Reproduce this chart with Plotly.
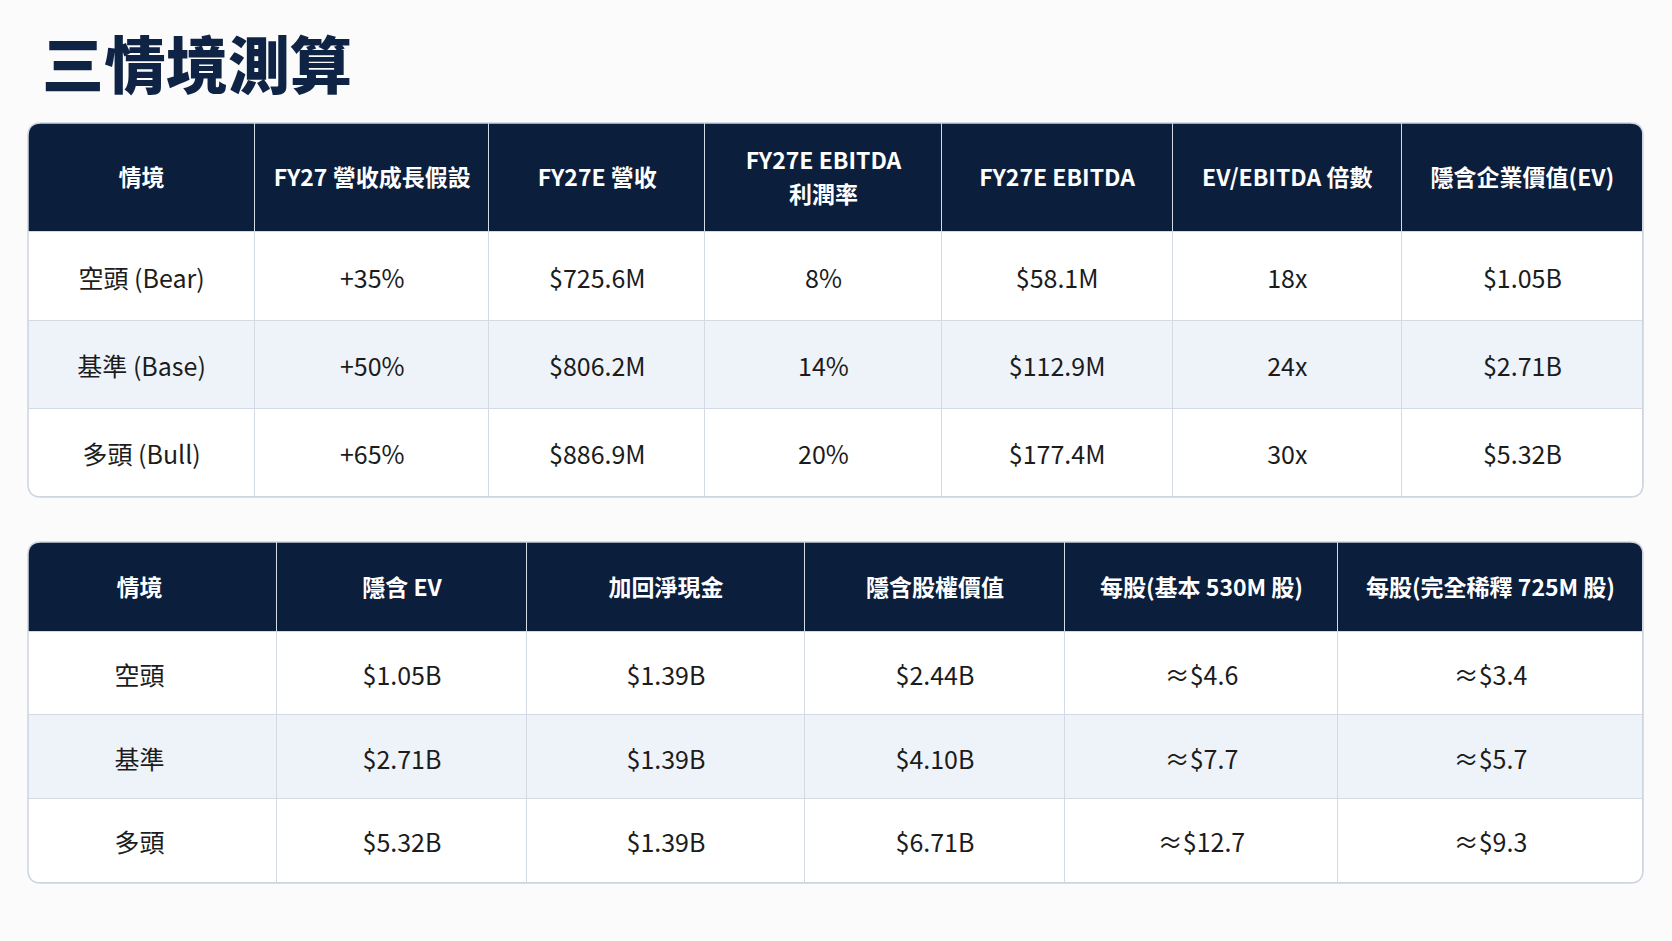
import plotly.graph_objects as go

W, H = 1672, 941

# ---- data ----
scen_header = ["情境", "FY27 營收成長假設", "FY27E 營收", "FY27E EBITDA<br>利潤率",
               "FY27E EBITDA", "EV/EBITDA 倍數", "隱含企業價值(EV)"]
scenarios = ["空頭 (Bear)", "基準 (Base)", "多頭 (Bull)"]
growth = ["+35%", "+50%", "+65%"]
revenue = ["$725.6M", "$806.2M", "$886.9M"]
margin = ["8%", "14%", "20%"]
ebitda = ["$58.1M", "$112.9M", "$177.4M"]
multiple = ["18x", "24x", "30x"]
implied_ev = ["$1.05B", "$2.71B", "$5.32B"]

val_header = ["情境", "隱含 EV", "加回淨現金", "隱含股權價值",
              "每股(基本 530M 股)", "每股(完全稀釋 725M 股)"]
scen_short = ["空頭", "基準", "多頭"]
net_cash = ["$1.39B", "$1.39B", "$1.39B"]
equity = ["$2.44B", "$4.10B", "$6.71B"]
per_share_basic = ["≈$4.6", "≈$7.7", "≈$12.7"]
per_share_diluted = ["≈$3.4", "≈$5.7", "≈$9.3"]

# ---- style ----
NAVY = "#0b1e3c"
ALT = "#eef3f9"
GRID = "#d3dae4"
BG = "#fbfbfc"
FONT = "Noto Sans CJK TC"
LEFT, RIGHT = 28, 1643
LINE_GAP = 34      # px between the lines of a two-line header
HEAD_NUDGE = 3     # px, text sits a touch below the cell middle
BODY_NUDGE = 5


def px(x):
    return x / W


def py(y):
    return 1 - y / H


fig = go.Figure()
shapes = []


def add_table(k, header, columns, widths, top, bottom, head_h, row_h, first_shift=0):
    xa = "x" if k == 1 else f"x{k}"
    ya = "y" if k == 1 else f"y{k}"
    n = len(columns[0])
    head_u = head_h / row_h
    xedges = [0]
    for w in widths:
        xedges.append(xedges[-1] + w)
    yedges = [-head_u] + list(range(n + 1))
    # 2 = header, 0/1 = banded body rows
    z = [[2] * len(columns)] + [[i % 2] * len(columns) for i in range(n)]
    fig.add_trace(go.Heatmap(
        x=xedges, y=yedges, z=z, zmin=0, zmax=2,
        colorscale=[[0, "white"], [0.5, ALT], [1, NAVY]],
        showscale=False, xgap=1, ygap=1, hoverinfo="skip",
        xaxis=xa, yaxis=ya))
    cx = [(xedges[j] + xedges[j + 1]) / 2 for j in range(len(columns))]
    cx[0] += first_shift

    hx, hy, ht = [], [], []
    for j, label in enumerate(header):
        lines = label.split("<br>")
        for m, line in enumerate(lines):
            hx.append(cx[j])
            off = (m - (len(lines) - 1) / 2) * LINE_GAP + HEAD_NUDGE
            hy.append(-head_u / 2 + off / row_h)
            ht.append(line)
    fig.add_trace(go.Scatter(
        x=hx, y=hy, text=ht, mode="text",
        textposition="middle center", hoverinfo="skip",
        textfont=dict(family=FONT, size=23, color="white", weight=700),
        xaxis=xa, yaxis=ya))

    bx, by, bt = [], [], []
    for j, col in enumerate(columns):
        for i, v in enumerate(col):
            bx.append(cx[j])
            by.append(i + 0.5 + BODY_NUDGE / row_h)
            bt.append(v)
    fig.add_trace(go.Scatter(
        x=bx, y=by, text=bt, mode="text", textposition="middle center",
        hoverinfo="skip",
        textfont=dict(family=FONT, size=25, color="#1c1c1c"),
        xaxis=xa, yaxis=ya))
    axname = "" if k == 1 else str(k)
    fig.update_layout({
        f"xaxis{axname}": dict(domain=[px(LEFT), px(RIGHT)], range=[0, xedges[-1]],
                               visible=False, fixedrange=True),
        f"yaxis{axname}": dict(domain=[py(bottom), py(top)], range=[n, -head_u],
                               visible=False, fixedrange=True),
    })

    # rounded corners + outer border drawn above the cells
    R = 13
    x0, x1, y0, y1 = LEFT, RIGHT, top, bottom
    corners = [
        (x0, y0, x0 - 2, y0 - 2, x0 + R, y0, x0, y0 + R),
        (x1, y0, x1 + 2, y0 - 2, x1 - R, y0, x1, y0 + R),
        (x0, y1, x0 - 2, y1 + 2, x0 + R, y1, x0, y1 - R),
        (x1, y1, x1 + 2, y1 + 2, x1 - R, y1, x1, y1 - R),
    ]
    for ccx, ccy, ox, oy, ax, ay, bx_, by_ in corners:
        path = (f"M {px(ox)},{py(oy)} L {px(ax)},{py(oy)} L {px(ax)},{py(ay)} "
                f"Q {px(ccx)},{py(ccy)} {px(bx_)},{py(by_)} L {px(ox)},{py(by_)} Z")
        shapes.append(dict(type="path", path=path, xref="paper", yref="paper",
                           fillcolor=BG, line=dict(width=0), layer="above"))
    outline = (f"M {px(x0 + R)},{py(y0)} L {px(x1 - R)},{py(y0)} "
               f"Q {px(x1)},{py(y0)} {px(x1)},{py(y0 + R)} "
               f"L {px(x1)},{py(y1 - R)} Q {px(x1)},{py(y1)} {px(x1 - R)},{py(y1)} "
               f"L {px(x0 + R)},{py(y1)} Q {px(x0)},{py(y1)} {px(x0)},{py(y1 - R)} "
               f"L {px(x0)},{py(y0 + R)} Q {px(x0)},{py(y0)} {px(x0 + R)},{py(y0)} Z")
    shapes.append(dict(type="path", path=outline, xref="paper", yref="paper",
                       line=dict(color="#cdd4df", width=1.5), layer="above"))


add_table(1, scen_header,
          [scenarios, growth, revenue, margin, ebitda, multiple, implied_ev],
          [227, 234, 216, 236, 231, 229, 241], 123, 497, 109, 88)
add_table(2, val_header,
          [scen_short, implied_ev, net_cash, equity, per_share_basic, per_share_diluted],
          [249, 250, 278, 260, 273, 305], 542, 883, 90, 84, first_shift=-13)

fig.update_layout(
    width=W, height=H,
    margin=dict(l=0, r=0, t=0, b=0),
    paper_bgcolor=BG, plot_bgcolor=GRID,
    showlegend=False,
    shapes=shapes,
    title=dict(text="三情境測算", x=px(42), xanchor="left", y=py(67), yanchor="middle",
               xref="paper", yref="paper",
               font=dict(family=FONT, size=62, color="#0f2345", weight=900)),
)

fig.write_html("out.html", config={"displayModeBar": False},
               post_script="document.body.style.margin='0px';")
